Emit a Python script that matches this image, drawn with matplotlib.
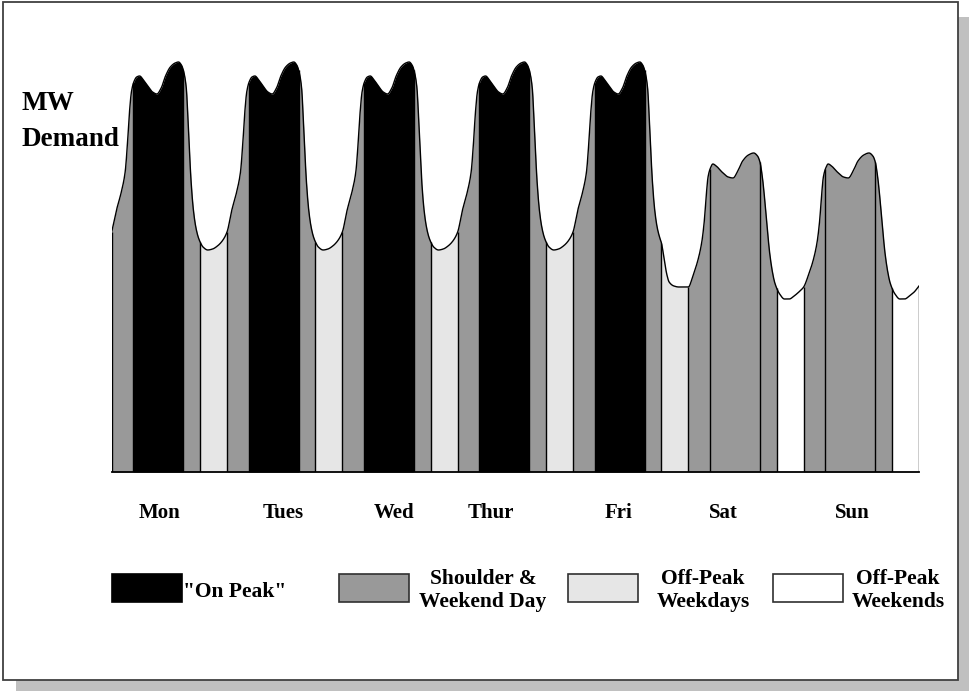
import numpy as np
import matplotlib.pyplot as plt
from matplotlib.patches import Rectangle

plt.rcParams['font.family'] = ['Liberation Serif', 'DejaVu Serif']
plt.rcParams['font.weight'] = 'bold'

days = ['Mon', 'Tues', 'Wed', 'Thur', 'Fri', 'Sat', 'Sun']

# hourly demand shape of a working day (hours from start of day, MW)
weekday_hours = [0, 1, 2, 2.8, 3.3, 3.7, 4.1, 4.6, 5.2, 5.8, 6.6, 7.5, 8.5, 9.4,
                 10.3, 11.2, 12.2, 13.2, 13.9, 14.5, 15.0, 15.5, 16.0, 16.5, 17.0,
                 17.5, 18.0, 18.5, 19, 20, 21, 22, 23, 24]
weekday_mw = [240, 262, 280, 300, 330, 360, 380, 390, 395, 396, 392, 386, 380, 378,
              384, 396, 405, 409, 410, 407, 400, 385, 340, 292, 262,
              245, 235, 229, 225, 222, 223, 226, 231, 239]

# friday evening drops down to the weekend level
fri_eve_hours = [18.4, 19, 19.5, 20, 21, 22, 23, 24]
fri_eve_mw = [229, 212, 198, 190, 186, 185, 185, 185]

weekend_hours = [0, 1, 2, 2.8, 3.3, 3.7, 4.1, 4.6, 5.1, 5.8, 7.0, 8.3, 9.3, 10.3,
                 11.3, 12.5, 13.6, 14.4, 14.9, 15.4, 15.9, 16.4, 16.9, 17.5, 18.0,
                 19, 20, 21, 22, 23, 24]
weekend_mw = [185, 197, 212, 230, 250, 275, 295, 304, 308, 306, 300, 295, 294, 301,
              311, 317, 319, 316, 310, 295, 272, 245, 220, 200, 189,
              178, 173, 173, 176, 180, 186]

# tariff periods within each day
period_edges = [0, 4.5, 14.9, 18.4, 24]
weekday_colors = ['#999999', 'black', '#999999', '#e6e6e6']
weekend_colors = ['#999999', '#999999', '#999999', 'white']

label_pos = [9.9, 35.7, 58.8, 78.9, 105.4, 127.2, 154.2]

legend_labels = ['"On Peak"', 'Shoulder &\nWeekend Day', 'Off-Peak\nWeekdays', 'Off-Peak\nWeekends']
legend_colors = ['black', '#999999', '#e6e6e6', 'white']


def smooth_curve(xk, yk, xq):
    # monotone cubic hermite through the points, so the line is drawn smooth
    xk = np.asarray(xk, float)
    yk = np.asarray(yk, float)
    h = np.diff(xk)
    d = np.diff(yk) / h
    m = np.zeros_like(yk)
    m[0], m[-1] = d[0], d[-1]
    for k in range(1, len(xk) - 1):
        if d[k - 1] * d[k] > 0:
            w1 = 2 * h[k] + h[k - 1]
            w2 = h[k] + 2 * h[k - 1]
            m[k] = (w1 + w2) / (w1 / d[k - 1] + w2 / d[k])
    i = np.clip(np.searchsorted(xk, xq, side='right') - 1, 0, len(xk) - 2)
    t = (xq - xk[i]) / h[i]
    h00 = 2 * t**3 - 3 * t**2 + 1
    h10 = t**3 - 2 * t**2 + t
    h01 = -2 * t**3 + 3 * t**2
    h11 = t**3 - t**2
    return h00 * yk[i] + h10 * h[i] * m[i] + h01 * yk[i + 1] + h11 * h[i] * m[i + 1]


# build the whole week
hrs, mw = [], []
for i, d in enumerate(days):
    if d in ('Sat', 'Sun'):
        h, v = np.array(weekend_hours), np.array(weekend_mw)
    elif d == 'Fri':
        wh, wv = np.array(weekday_hours), np.array(weekday_mw)
        m = wh < fri_eve_hours[0]
        h = np.concatenate([wh[m], fri_eve_hours])
        v = np.concatenate([wv[m], fri_eve_mw])
    else:
        h, v = np.array(weekday_hours), np.array(weekday_mw)
    keep = h < 24 if i < len(days) - 1 else h <= 24
    hrs += list(h[keep] + 24 * i)
    mw += list(v[keep])
hrs = np.array(hrs)
mw = np.array(mw)

fig = plt.figure(figsize=(9.69, 6.91), dpi=100)

# background: shadow + frame, working in pixel units
bg = fig.add_axes([0, 0, 1, 1])
bg.set_xlim(0, 969)
bg.set_ylim(691, 0)
bg.axis('off')
bg.add_patch(Rectangle((16, 17), 953, 674, facecolor='#c0c0c0', edgecolor='none'))
bg.add_patch(Rectangle((3, 2), 954.7, 678, facecolor='white', edgecolor='#404040', lw=1.3))

bg.text(21.7, 110, 'MW', fontsize=19.5, va='baseline', ha='left')
bg.text(21.7, 145.7, 'Demand', fontsize=19.5, va='baseline', ha='left')

# legend
box_x = [111.7, 339.3, 568.3, 773.3]
text_x = [183.3, 483, 703, 898]
for k in range(4):
    ec = 'black' if k == 0 else '#303030'
    bg.add_patch(Rectangle((box_x[k], 574), 70, 27.7, facecolor=legend_colors[k],
                           edgecolor=ec, lw=1.2))
    lines = legend_labels[k].split('\n')
    if len(lines) == 1:
        bg.text(text_x[k], 597, lines[0], fontsize=15.5, ha='left', va='baseline')
    else:
        bg.text(text_x[k], 584, lines[0], fontsize=15.5, ha='center', va='baseline')
        bg.text(text_x[k], 607, lines[1], fontsize=15.5, ha='center', va='baseline')

# load curve
ax = fig.add_axes([111.7 / 969, (691 - 472) / 691, 807.3 / 969, 432 / 691])
ax.set_xlim(0, 168)
ax.set_ylim(0, 432)
ax.axis('off')

x = np.linspace(0, 168, 5000)
edges = []
for i, d in enumerate(days):
    cols = weekend_colors if d in ('Sat', 'Sun') else weekday_colors
    for j in range(4):
        a = 24 * i + period_edges[j]
        b = 24 * i + period_edges[j + 1]
        xs = np.concatenate([[a], x[(x > a) & (x < b)], [b]])
        ys = smooth_curve(hrs, mw, xs)
        ax.fill_between(xs, 0, ys, color=cols[j], lw=0)
        edges.append(a)
edges.append(168)
edges = np.array(edges)
ax.vlines(edges, 0, smooth_curve(hrs, mw, edges), color='black', lw=1)
ax.plot(x, smooth_curve(hrs, mw, x), color='black', lw=1)
ax.plot([0, 168], [0, 0], color='black', lw=1.3, clip_on=False)

for p, d in zip(label_pos, days):
    ax.text(p, -46, d, fontsize=15, ha='center', va='baseline')

plt.savefig('out.png', dpi=100)
